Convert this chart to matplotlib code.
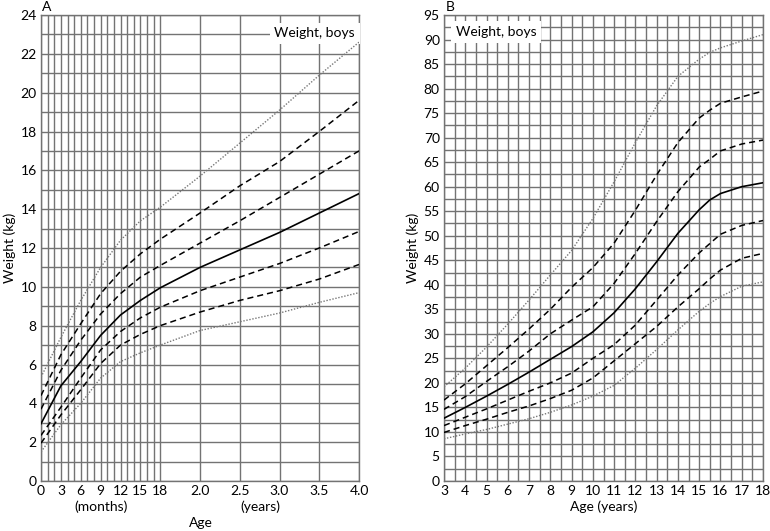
import matplotlib
matplotlib.use("Agg")
import matplotlib.pyplot as plt
import numpy as np

plt.rcParams["font.family"] = ["Lato", "DejaVu Sans"]

# panel A: age in months, weight in kg
months = [0, 3, 6, 9, 12, 15, 18, 24, 30, 36, 42, 48]
a_p996 = [5.35, 7.4, 9.3, 11.0, 12.4, 13.4, 14.1, 15.7, 17.4, 19.1, 20.9, 22.6]
a_p98 = [4.4, 6.5, 8.1, 9.65, 10.8, 11.7, 12.45, 13.8, 15.2, 16.45, 18.0, 19.6]
a_p91 = [3.7, 5.7, 7.25, 8.6, 9.65, 10.5, 11.1, 12.25, 13.4, 14.6, 15.8, 17.0]
a_p50 = [2.95, 4.9, 6.15, 7.5, 8.55, 9.3, 9.95, 11.0, 11.9, 12.8, 13.8, 14.8]
a_p9 = [2.35, 3.8, 5.3, 6.75, 7.7, 8.4, 8.95, 9.8, 10.5, 11.2, 12.0, 12.85]
a_p2 = [1.95, 3.4, 4.7, 6.05, 7.0, 7.55, 8.0, 8.7, 9.3, 9.8, 10.4, 11.15]
a_p04 = [1.5, 2.9, 4.0, 5.3, 6.15, 6.6, 7.0, 7.75, 8.2, 8.65, 9.2, 9.7]
a_tick_pos = [0, 3, 6, 9, 12, 15, 18, 24, 30, 36, 42, 48]
a_tick_lab = ["0", "3", "6", "9", "12", "15", "18", "2.0", "2.5", "3.0", "3.5", "4.0"]

# panel B: age in years
years = [3, 4, 5, 6, 7, 8, 9, 10, 11, 12, 13, 14, 15, 15.5, 16, 17, 18]
b_p996 = [19.2, 23.0, 27.3, 32.0, 36.9, 42.0, 47.0, 53.5, 61.0, 69.0, 76.5, 82.5, 86.0, 87.4, 88.3, 89.7, 91.0]
b_p98 = [16.5, 19.8, 23.5, 27.2, 31.0, 35.0, 39.5, 43.5, 48.5, 55.2, 62.4, 69.0, 74.0, 75.6, 77.0, 78.3, 79.5]
b_p91 = [14.6, 17.2, 20.3, 23.3, 26.5, 30.0, 32.8, 35.5, 40.3, 46.4, 52.9, 59.0, 64.0, 65.6, 67.3, 68.7, 69.5]
b_p50 = [12.8, 15.0, 17.3, 19.7, 22.2, 24.8, 27.4, 30.4, 34.3, 39.2, 44.7, 50.5, 55.3, 57.3, 58.6, 60.0, 60.8]
b_p9 = [11.3, 13.0, 14.7, 16.5, 18.3, 20.0, 22.0, 25.0, 27.8, 31.8, 36.9, 42.0, 46.5, 48.4, 50.3, 52.1, 53.1]
b_p2 = [9.9, 11.3, 12.6, 14.0, 15.3, 16.8, 18.5, 21.0, 24.5, 28.0, 31.5, 35.5, 39.2, 41.2, 43.0, 45.4, 46.4]
b_p04 = [8.6, 9.6, 10.5, 11.6, 12.7, 14.0, 15.5, 17.3, 19.5, 23.0, 26.8, 30.8, 34.6, 36.2, 37.6, 39.7, 40.6]

GRID = "#737373"
FS = 10
DOT = dict(color="#777777", lw=1.0, ls=(0, (1, 1.2)), zorder=4)
DASH = dict(color="black", lw=1.1, ls=(0, (4, 2.6)), zorder=4)
SOLID = dict(color="black", lw=1.2, ls="-", zorder=4)


def style_axes(ax):
    ax.set_axisbelow(True)
    ax.grid(which="both", color=GRID, lw=1.0)
    for sp in ax.spines.values():
        sp.set_color(GRID)
        sp.set_linewidth(1.0)
    ax.tick_params(which="both", length=0, labelsize=FS, pad=3)


def px(x, y):
    return x / 770, 1 - y / 531


fig = plt.figure(figsize=(7.7, 5.31), dpi=100)
ax1 = fig.add_axes([41 / 770, 1 - 481 / 531, 318 / 770, 466 / 531])
ax2 = fig.add_axes([444 / 770, 1 - 481 / 531, 319 / 770, 466 / 531])

# --- A ---
for vals, st in [(a_p996, DOT), (a_p98, DASH), (a_p91, DASH), (a_p50, SOLID),
                 (a_p9, DASH), (a_p2, DASH), (a_p04, DOT)]:
    ax1.plot(months, vals, **st)
ax1.set_xlim(0, 48)
ax1.set_ylim(0, 24)
ax1.set_xticks(a_tick_pos)
ax1.set_xticklabels(a_tick_lab)
ax1.set_xticks([m for m in range(19) if m % 3], minor=True)
ax1.set_yticks(np.arange(0, 25, 2))
ax1.set_yticks(np.arange(1, 24, 2), minor=True)
style_axes(ax1)
ax1.set_ylabel("Weight (kg)", fontsize=FS, labelpad=3)
ax1.text(47.4, 23.05, "Weight, boys", ha="right", va="center", fontsize=FS, zorder=3,
         bbox=dict(facecolor="white", edgecolor="none", pad=3.5))
fig.text(*px(42, 7), "A", fontsize=FS, ha="left", va="center")
fig.text(*px(101, 507), "(months)", fontsize=FS, ha="center", va="center")
fig.text(*px(260, 507), "(years)", fontsize=FS, ha="center", va="center")
fig.text(*px(201, 523), "Age", fontsize=FS, ha="center", va="center")

# --- B ---
for vals, st in [(b_p996, DOT), (b_p98, DASH), (b_p91, DASH), (b_p50, SOLID),
                 (b_p9, DASH), (b_p2, DASH), (b_p04, DOT)]:
    ax2.plot(years, vals, **st)
ax2.set_xlim(3, 18)
ax2.set_ylim(0, 95)
ax2.set_xticks(np.arange(3, 19, 1))
ax2.set_xticks(np.arange(3.5, 18, 1), minor=True)
ax2.set_yticks(np.arange(0, 96, 5))
ax2.set_yticks(np.arange(2.5, 95, 5), minor=True)
style_axes(ax2)
ax2.set_ylabel("Weight (kg)", fontsize=FS, labelpad=3)
fig.text(*px(604, 507), "Age (years)", fontsize=FS, ha="center", va="center")
ax2.text(3.55, 91.5, "Weight, boys", ha="left", va="center", fontsize=FS, zorder=3,
         bbox=dict(facecolor="white", edgecolor="none", pad=3.5))
fig.text(*px(446, 7), "B", fontsize=FS, ha="left", va="center")

fig.savefig("out.png", dpi=100)
